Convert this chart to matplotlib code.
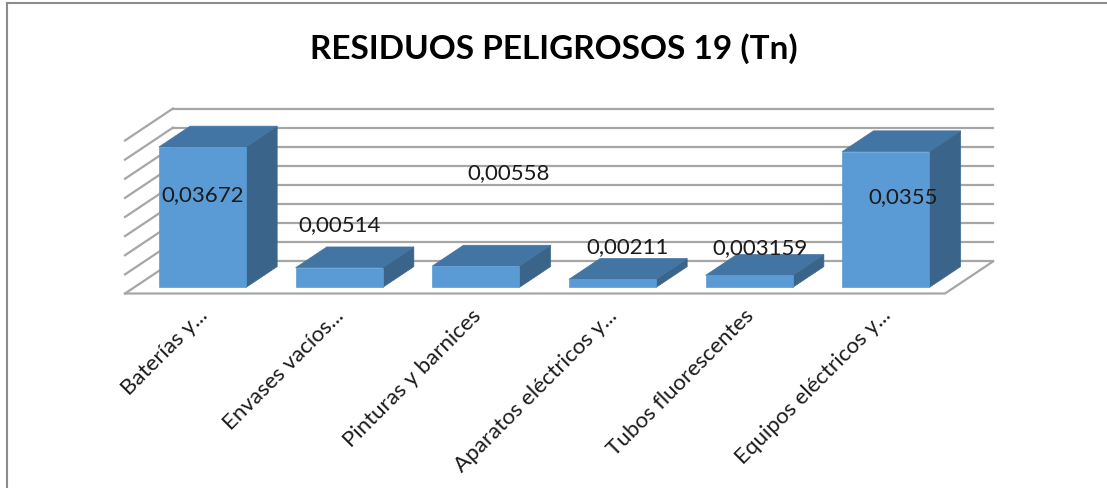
import matplotlib
matplotlib.use('Agg')
import matplotlib.pyplot as plt
from matplotlib.patches import Polygon
from matplotlib.lines import Line2D

categories = ['Baterías y...', 'Envases vacíos...', 'Pinturas y barnices',
              'Aparatos eléctricos y...', 'Tubos fluorescentes', 'Equipos eléctricos y...']
values = [0.03672, 0.00514, 0.00558, 0.00211, 0.003159, 0.0355]
value_labels = ['0,03672', '0,00514', '0,00558', '0,00211', '0,003159', '0,0355']
y_max = 0.04
y_step = 0.005

# where Excel happened to put the data labels (x shift from bar, y in data units)
label_dx = [0.0, 0.0, 0.24, 0.11, 0.08, 0.13]
label_y = [0.0258, 0.0179, 0.0315, 0.0122, 0.0118, 0.0251]

# fake 3D: oblique depth offsets
DX = 0.351
DY = 0.00837
d0, d1 = 0.19, 0.84
bar_w = 0.637

front_c = '#5B9BD5'
top_c = '#4275A3'
side_c = '#3A6489'
grid_c = '#A6A6A6'

plt.rcParams['font.family'] = ['Lato', 'DejaVu Sans']

fig = plt.figure(figsize=(11.07, 4.88), dpi=100)
ax = fig.add_axes([125 / 1107, (488 - 293.5) / 488, 868 / 1107, 185 / 488])
ax.set_xlim(-0.5, 5.5 + DX)
ax.set_ylim(0, y_max + DY)
ax.axis('off')

n = len(categories)
x_left, x_right = -0.5, n - 0.5

# back wall + side wall gridlines
k = 0
while k * y_step <= y_max + 1e-9:
    v = k * y_step
    ax.plot([x_left + DX, x_right + DX], [v + DY, v + DY], color=grid_c, lw=1.6, clip_on=False, zorder=1)
    ax.plot([x_left, x_left + DX], [v, v + DY], color=grid_c, lw=1.6, clip_on=False, zorder=1)
    k += 1

# floor outline
ax.plot([x_left, x_right, x_right + DX], [0, 0, DY], color=grid_c, lw=1.6, clip_on=False, zorder=1)

for i, v in enumerate(values):
    x0 = i - bar_w / 2 + d0 * DX
    y0 = d0 * DY
    ddx = (d1 - d0) * DX
    ddy = (d1 - d0) * DY
    front = [(x0, y0), (x0 + bar_w, y0), (x0 + bar_w, y0 + v), (x0, y0 + v)]
    top = [(x0, y0 + v), (x0 + bar_w, y0 + v), (x0 + bar_w + ddx, y0 + v + ddy), (x0 + ddx, y0 + v + ddy)]
    side = [(x0 + bar_w, y0), (x0 + bar_w + ddx, y0 + ddy), (x0 + bar_w + ddx, y0 + v + ddy), (x0 + bar_w, y0 + v)]
    for pts, c in [(side, side_c), (top, top_c), (front, front_c)]:
        ax.add_patch(Polygon(pts, closed=True, facecolor=c, edgecolor=c, lw=0.5, zorder=3, clip_on=False))

for i, lab in enumerate(value_labels):
    ax.text(i + d0 * DX + label_dx[i], label_y[i], lab, ha='center', va='center',
            fontsize=16, color='#1a1a1a', zorder=5)

for i, cat in enumerate(categories):
    ax.text(i + 0.08, -0.005, cat, rotation=45, rotation_mode='anchor',
            ha='right', va='center', fontsize=16, color='#1a1a1a')

fig.text(0.5, 1 - 49 / 488, 'RESIDUOS PELIGROSOS 19 (Tn)', ha='center', va='center',
         fontsize=24, fontweight='bold', color='black')

# chart border (only left/top visible in the crop)
fig.add_artist(Line2D([6.5 / 1107, 6.5 / 1107], [0, 1 - 2.5 / 488], transform=fig.transFigure, color='#8C8C8C', lw=1.5))
fig.add_artist(Line2D([6.5 / 1107, 1], [1 - 2.5 / 488, 1 - 2.5 / 488], transform=fig.transFigure, color='#8C8C8C', lw=1.5))

fig.savefig('out.png', dpi=100)
